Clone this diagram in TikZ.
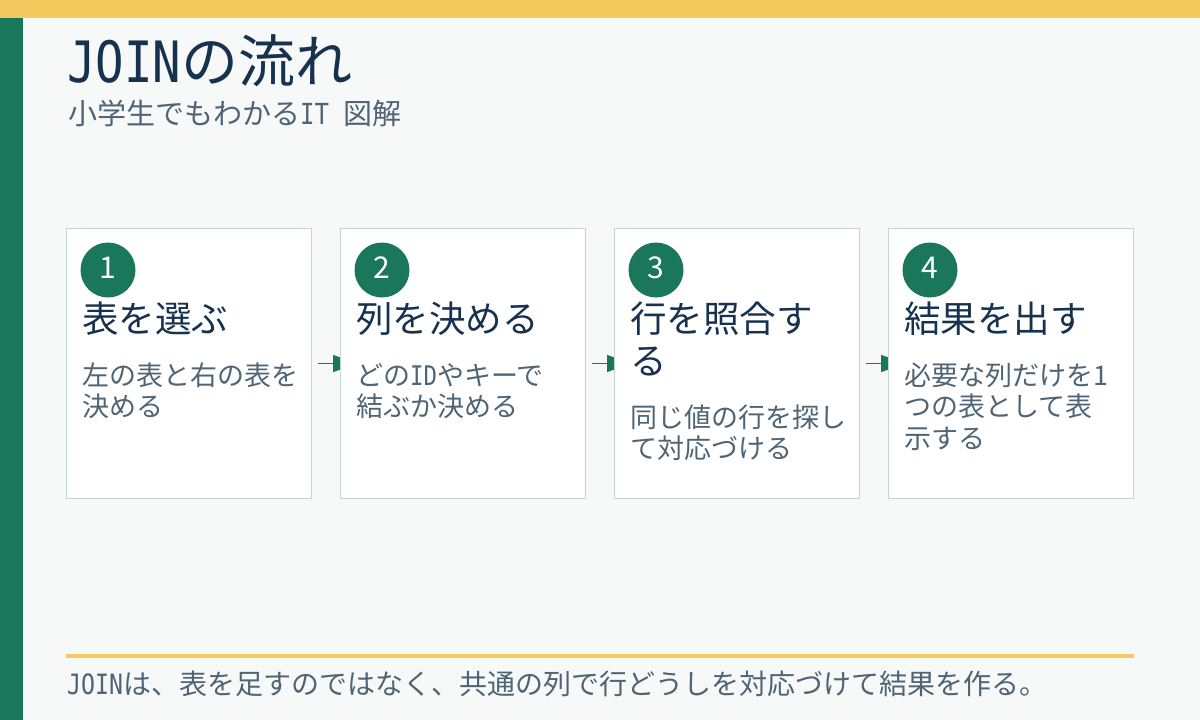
\documentclass[tikz,border=0pt]{standalone}
\usepackage{fontspec}
\setmainfont{Noto Sans CJK JP}
\newfontfamily\lat[FakeStretch=0.83]{DejaVu Sans Mono}
\usetikzlibrary{arrows.meta}
\definecolor{pagebg}{HTML}{F7F9F8}
\definecolor{sunyellow}{HTML}{F4CA5F}
\definecolor{accent}{HTML}{1A775A}
\definecolor{navy}{HTML}{16324F}
\definecolor{inkgray}{HTML}{4F6475}
\definecolor{boxline}{HTML}{C3D6CF}
\pgfdeclarelayer{back}
\pgfdeclarelayer{arrowlayer}
\pgfsetlayers{back,arrowlayer,main}
\begin{document}
\begin{tikzpicture}[x=1pt,y=-1pt,
  stepbox/.style={draw=boxline, line width=1pt, fill=white, minimum width=245pt, minimum height=270pt, inner sep=0pt, anchor=north west},
  numdot/.style={circle, fill=accent, minimum size=55pt, inner sep=0pt},
  numtext/.style={text=white, font=\fontsize{30}{30}\selectfont, anchor=base, inner sep=0pt},
  headtext/.style={text=navy, font=\fontsize{36.5}{40}\selectfont, anchor=base west, inner sep=0pt},
  bodytext/.style={text=inkgray, font=\fontsize{27}{30}\selectfont, anchor=base west, inner sep=0pt},
  flow/.style={draw=accent, line width=1.5pt, -{Triangle[length=24pt,width=17pt]}}
]
\useasboundingbox (0,0) rectangle (1200,720);
\begin{pgfonlayer}{back}
  \fill[fill=pagebg] (0,0) rectangle (1200,720);
  \fill[fill=sunyellow] (0,0) rectangle (1200,18);
  \fill[fill=accent] (0,18) rectangle (23,720);
\end{pgfonlayer}

% title
\node[anchor=base west, inner sep=0pt, text=navy, font=\fontsize{57}{60}\selectfont] (title) at (67,82) {{\lat JOIN}の流れ};
\node[anchor=base west, inner sep=0pt, text=inkgray, font=\fontsize{29}{30}\selectfont] (subtitle) at (68,124) {小学生でもわかる{\lat IT }図解};

% boxes
\node[stepbox] (b1) at (66,228) {};
\node[stepbox] (b2) at (340,228) {};
\node[stepbox] (b3) at (614,228) {};
\node[stepbox] (b4) at (888,228) {};

% number badges
\node[numdot] (c1) at (108,270) {};
\node[numdot] (c2) at (382,270) {};
\node[numdot] (c3) at (656,270) {};
\node[numdot] (c4) at (930,270) {};
\node[numtext] (n1) at (108,278) {1};
\node[numtext] (n2) at (382,278) {2};
\node[numtext] (n3) at (656,278) {3};
\node[numtext] (n4) at (930,278) {4};

% headings
\node[headtext] (h1) at (82,332) {表を選ぶ};
\node[headtext] (h2) at (356,332) {列を決める};
\node[headtext] (h3a) at (630,332) {行を照合す};
\node[headtext] (h3b) at (630,374) {る};
\node[headtext] (h4) at (904,332) {結果を出す};

% body text
\node[bodytext] (t1a) at (82,385) {左の表と右の表を};
\node[bodytext] (t1b) at (82,416.5) {決める};
\node[bodytext] (t2a) at (356,385) {どの{\lat ID}やキーで};
\node[bodytext] (t2b) at (356,416.5) {結ぶか決める};
\node[bodytext] (t3a) at (630,427) {同じ値の行を探し};
\node[bodytext] (t3b) at (630,458.5) {て対応づける};
\node[bodytext] (t4a) at (904,385) {必要な列だけを1};
\node[bodytext] (t4b) at (904,416.5) {つの表として表};
\node[bodytext] (t4c) at (904,448) {示する};

% arrows (behind boxes)
\begin{pgfonlayer}{arrowlayer}
  \draw[flow] ([xshift=6pt]b1.east) -- ([xshift=17pt]b2.west);
  \draw[flow] ([xshift=6pt]b2.east) -- ([xshift=17pt]b3.west);
  \draw[flow] ([xshift=6pt]b3.east) -- ([xshift=17pt]b4.west);
\end{pgfonlayer}

% footer
\fill[fill=sunyellow] (66,654) rectangle (1134,658);
\node[anchor=base west, inner sep=0pt, text=inkgray, font=\fontsize{28}{30}\selectfont] (footer) at (67,694) {{\lat JOIN}は、表を足すのではなく、共通の列で行どうしを対応づけて結果を作る。};
\end{tikzpicture}
\end{document}
